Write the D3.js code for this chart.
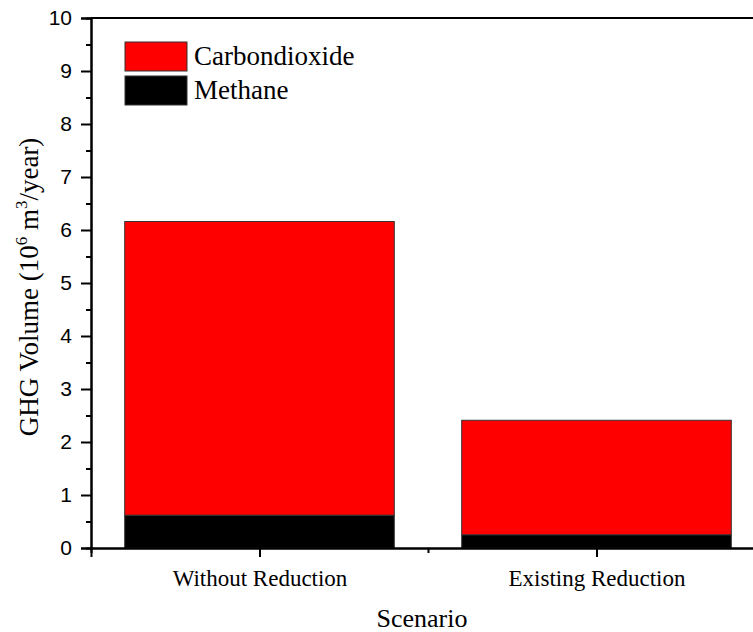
<!DOCTYPE html>
<html>
<head>
<meta charset="utf-8">
<script src="https://cdn.jsdelivr.net/npm/d3@7"></script>
<style>
  body { margin: 0; background: #fff; }
  svg { display: block; }
</style>
</head>
<body>
<svg id="chart" width="753" height="632"></svg>
<script>
var scenarios = ["Without Reduction", "Existing Reduction"]
var methane = [0.62, 0.25]
var carbondioxide = [5.54, 2.16]
var yTicks = [0, 1, 2, 3, 4, 5, 6, 7, 8, 9, 10]

var svg = d3.select("#chart")
var mLeft = 91, mRight = 765, mTop = 18, mBottom = 548
var serif = "Liberation Serif, Times New Roman, serif"

// categories sit at 1 and 2, axis runs 0.5 .. 2.5 (right end is cut off)
var x = d3.scaleLinear().domain([0.5, 2.5]).range([mLeft, mRight])
var y = d3.scaleLinear().domain([0, 10]).range([mBottom, mTop])
var barW = x(1.8) - x(1)

var rows = scenarios.map(function(s, i) {
  return { name: s, pos: i + 1, methane: methane[i], co2: carbondioxide[i] }
})
var stack = d3.stack().keys(["methane", "co2"])(rows)
var colors = { methane: "#000000", co2: "#ff0000" }

svg.selectAll("g.layer").data(stack).enter().append("g").attr("class", "layer")
  .attr("fill", function(d) { return colors[d.key] })
  .selectAll("rect").data(function(d) { return d }).enter().append("rect")
  .attr("x", function(d) { return x(d.data.pos) - barW / 2 })
  .attr("width", barW)
  .attr("y", function(d) { return y(d[1]) })
  .attr("height", function(d) { return y(d[0]) - y(d[1]) })
  .attr("stroke", "#333").attr("stroke-width", 1)

// frame top line
svg.append("line").attr("x1", mLeft).attr("x2", 753).attr("y1", mTop).attr("y2", mTop)
  .attr("stroke", "#000").attr("stroke-width", 2)

// y axis
var gy = svg.append("g").attr("transform", "translate(" + mLeft + ",0)")
  .call(d3.axisLeft(y).tickValues(yTicks).tickSize(10).tickFormat(d3.format("d")))
gy.selectAll(".tick text").attr("font-family", "Liberation Sans, Arial, sans-serif")
  .attr("font-size", 21).attr("fill", "#000").attr("dx", -6).attr("dy", "0.3em")
svg.append("g").attr("transform", "translate(" + mLeft + ",0)")
  .call(d3.axisLeft(y).tickValues(d3.range(0.5, 10, 1)).tickSize(5).tickFormat(""))

// x axis
var gx = svg.append("g").attr("transform", "translate(0," + mBottom + ")")
  .call(d3.axisBottom(x).tickValues([1, 2]).tickSize(9).tickFormat(function(d) { return scenarios[d - 1] }))
gx.selectAll(".tick text").attr("font-family", serif)
  .attr("font-size", 23).attr("fill", "#000").attr("dy", 26)
svg.append("g").attr("transform", "translate(0," + mBottom + ")")
  .call(d3.axisBottom(x).tickValues([1.5]).tickSize(5).tickFormat(""))

svg.selectAll(".domain").attr("stroke", "#000").attr("stroke-width", 2)
svg.selectAll(".tick line").attr("stroke", "#000").attr("stroke-width", 2)

// axis titles
svg.append("text").text("Scenario").attr("x", 422).attr("y", 627)
  .attr("text-anchor", "middle").attr("font-family", serif).attr("font-size", 26)

var yt = svg.append("text").attr("transform", "translate(38,287) rotate(-90)")
  .attr("text-anchor", "middle").attr("font-family", serif).attr("font-size", 27)
yt.append("tspan").text("GHG Volume (10")
yt.append("tspan").text("6").attr("font-size", 17).attr("dy", -11)
yt.append("tspan").text(" m").attr("dy", 11)
yt.append("tspan").text("3").attr("font-size", 17).attr("dy", -11)
yt.append("tspan").text("/year)").attr("dy", 11)

// legend
var legendKeys = [{ key: "co2", label: "Carbondioxide" }, { key: "methane", label: "Methane" }]
var lg = svg.selectAll("g.legend").data(legendKeys).enter().append("g").attr("class", "legend")
  .attr("transform", function(d, i) { return "translate(125," + (42 + i * 34) + ")" })
lg.append("rect").attr("width", 62).attr("height", 29)
  .attr("fill", function(d) { return colors[d.key] }).attr("stroke", "#333").attr("stroke-width", 1)
lg.append("text").text(function(d) { return d.label }).attr("x", 69).attr("y", 23)
  .attr("font-family", serif).attr("font-size", 27)
</script>
</body>
</html>
